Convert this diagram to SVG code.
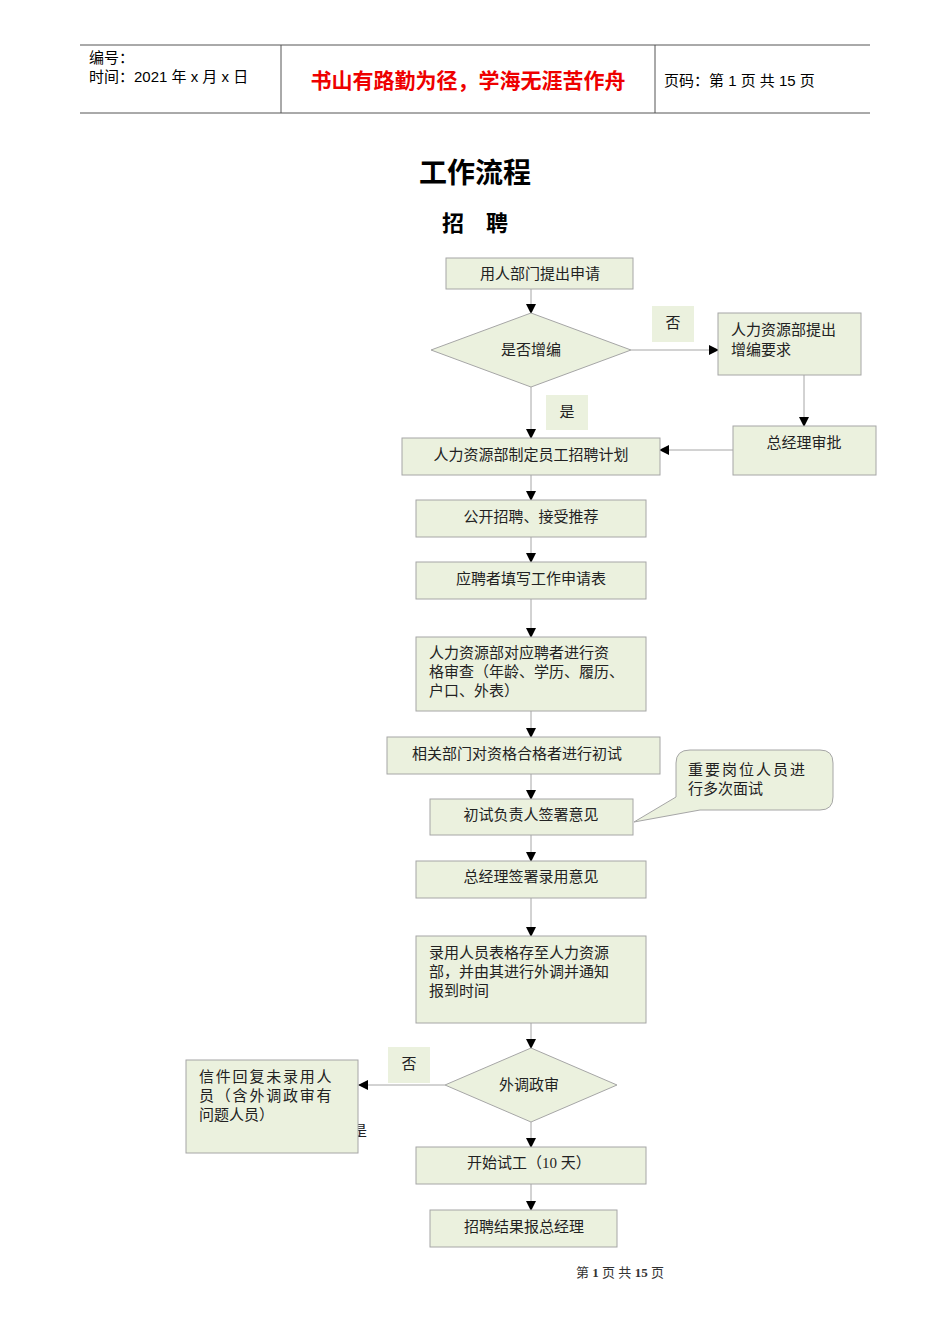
<svg xmlns="http://www.w3.org/2000/svg" width="950" height="1344" viewBox="0 0 950 1344">
<style>
.b{fill:#EBF1DE;stroke:#A6A6A6;stroke-width:1}
.l{fill:#EBF1DE;stroke:none}
.t{font-family:"Liberation Serif","Noto Sans CJK SC",serif;font-size:15px;fill:#222}
.c{text-anchor:middle}
.h{font-family:"Liberation Sans","Noto Sans CJK SC",sans-serif;font-size:15px;fill:#000}
.cn{stroke:#A6A6A6;stroke-width:1;fill:none;marker-end:url(#a)}
</style>
<defs><marker id="a" markerWidth="10" markerHeight="10" refX="9" refY="5" orient="auto" markerUnits="userSpaceOnUse"><path d="M0,0L10,5L0,10z" fill="#000"/></marker></defs>
<rect width="950" height="1344" fill="#fff"/>
<g id="header">
<line x1="80" y1="45" x2="870" y2="45" stroke="#555"/>
<line x1="80" y1="113" x2="870" y2="113" stroke="#555"/>
<line x1="281" y1="45" x2="281" y2="113" stroke="#555"/>
<line x1="655" y1="45" x2="655" y2="113" stroke="#555"/>
<text x="89" y="63" class="h">编号：</text>
<text x="89" y="82" class="h">时间：2021 年 x 月 x 日</text>
<text x="468" y="88" class="c" font-family="'Noto Sans CJK SC',sans-serif" font-size="21" font-weight="bold" fill="#E00">书山有路勤为径，学海无涯苦作舟</text>
<text x="664" y="86" class="h">页码：第 1 页  共 15 页</text>
</g>
<text x="475" y="183" class="c" font-family="'Noto Sans CJK SC',sans-serif" font-size="28" font-weight="bold">工作流程</text>
<text x="475" y="231" class="c" font-family="'Noto Sans CJK SC',sans-serif" font-size="22" font-weight="bold">招　聘</text>
<text x="352" y="1136" class="t">是</text>
<g id="connectors">
<line x1="531" y1="289" x2="531" y2="313" class="cn"/>
<line x1="631" y1="350" x2="718" y2="350" class="cn"/>
<line x1="531" y1="387" x2="531" y2="438" class="cn"/>
<line x1="804" y1="375" x2="804" y2="426" class="cn"/>
<line x1="733" y1="450" x2="660" y2="450" class="cn"/>
<line x1="531" y1="475" x2="531" y2="500" class="cn"/>
<line x1="531" y1="537" x2="531" y2="562" class="cn"/>
<line x1="531" y1="599" x2="531" y2="637" class="cn"/>
<line x1="531" y1="711" x2="531" y2="737" class="cn"/>
<line x1="531" y1="774" x2="531" y2="799" class="cn"/>
<line x1="531" y1="835" x2="531" y2="861" class="cn"/>
<line x1="531" y1="898" x2="531" y2="936" class="cn"/>
<line x1="531" y1="1023" x2="531" y2="1048" class="cn"/>
<line x1="445" y1="1085" x2="359" y2="1085" class="cn"/>
<line x1="531" y1="1122" x2="531" y2="1147" class="cn"/>
<line x1="531" y1="1184" x2="531" y2="1210" class="cn"/>
</g>
<g id="n1"><rect x="446" y="258" width="187" height="31" class="b"/><text x="540" y="279" class="t c">用人部门提出申请</text></g>
<g id="n2"><polygon points="531,313 631,350 531,387 431,350" class="b"/><text x="531" y="355" class="t c">是否增编</text></g>
<g id="lno1"><rect x="652" y="306" width="42" height="36" class="l"/><text x="673" y="328" class="t c">否</text></g>
<g id="n3"><rect x="718" y="313" width="143" height="62" class="b"/><text x="731" y="335" class="t">人力资源部提出</text><text x="731" y="355" class="t">增编要求</text></g>
<g id="lyes1"><rect x="546" y="395" width="42" height="35" class="l"/><text x="567" y="417" class="t c">是</text></g>
<g id="n4"><rect x="733" y="426" width="143" height="49" class="b"/><text x="804" y="448" class="t c">总经理审批</text></g>
<g id="n5"><rect x="402" y="438" width="258" height="37" class="b"/><text x="531" y="460" class="t c">人力资源部制定员工招聘计划</text></g>
<g id="n6"><rect x="416" y="500" width="230" height="37" class="b"/><text x="531" y="522" class="t c">公开招聘、接受推荐</text></g>
<g id="n7"><rect x="416" y="562" width="230" height="37" class="b"/><text x="531" y="584" class="t c">应聘者填写工作申请表</text></g>
<g id="n8"><rect x="416" y="637" width="230" height="74" class="b"/><text x="429" y="658" class="t">人力资源部对应聘者进行资</text><text x="429" y="677" class="t">格审查（年龄、学历、履历、</text><text x="429" y="696" class="t">户口、外表）</text></g>
<g id="n9"><rect x="387" y="737" width="273" height="37" class="b"/><text x="517" y="759" class="t c">相关部门对资格合格者进行初试</text></g>
<g id="n10"><rect x="430" y="799" width="203" height="36" class="b"/><text x="531" y="820" class="t c">初试负责人签署意见</text></g>
<g id="callout"><path d="M690,750H820Q833,750 833,763V797Q833,810 820,810H700L634,822L676,797V763Q676,750 690,750Z" class="b"/><text x="688" y="775" class="t" letter-spacing="2">重要岗位人员进</text><text x="688" y="794" class="t">行多次面试</text></g>
<g id="n11"><rect x="416" y="861" width="230" height="37" class="b"/><text x="531" y="882" class="t c">总经理签署录用意见</text></g>
<g id="n12"><rect x="416" y="936" width="230" height="87" class="b"/><text x="429" y="958" class="t">录用人员表格存至人力资源</text><text x="429" y="977" class="t">部，并由其进行外调并通知</text><text x="429" y="996" class="t">报到时间</text></g>
<g id="n13"><polygon points="531,1048 617,1085 531,1122 445,1085" class="b"/><text x="529" y="1090" class="t c">外调政审</text></g>
<g id="lno2"><rect x="388" y="1047" width="42" height="36" class="l"/><text x="409" y="1069" class="t c">否</text></g>
<g id="n14"><rect x="186" y="1060" width="172" height="93" class="b"/><text x="199" y="1082" class="t" letter-spacing="1.8">信件回复未录用人</text><text x="199" y="1101" class="t" letter-spacing="1.8">员（含外调政审有</text><text x="199" y="1120" class="t">问题人员）</text></g>
<g id="n15"><rect x="416" y="1147" width="230" height="37" class="b"/><text x="529" y="1168" class="t c">开始试工（10 天）</text></g>
<g id="n16"><rect x="430" y="1210" width="187" height="37" class="b"/><text x="524" y="1232" class="t c">招聘结果报总经理</text></g>
<text x="620" y="1277" class="c" font-family="'Liberation Serif','Noto Sans CJK SC',serif" font-size="13" fill="#333">第 <tspan font-weight="bold">1</tspan> 页 共 <tspan font-weight="bold">15</tspan> 页</text>
</svg>
